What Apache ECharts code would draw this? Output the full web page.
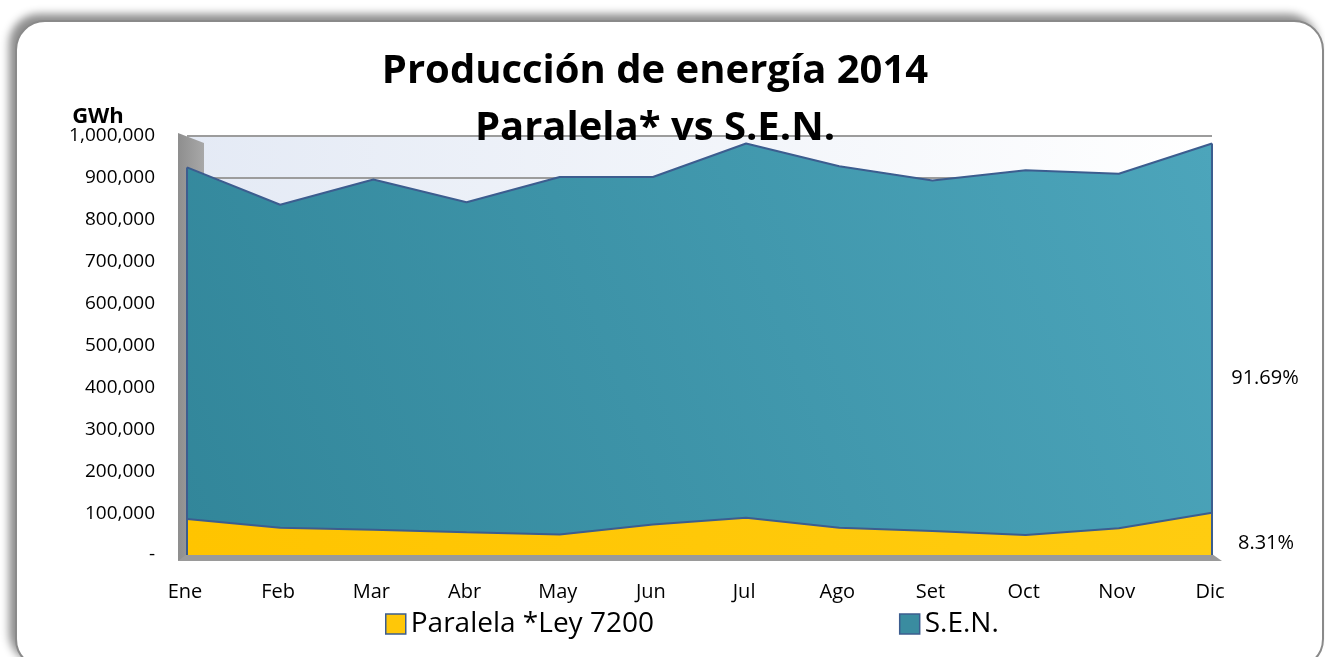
<!DOCTYPE html>
<html lang="es">
<head>
    <meta charset="UTF-8">
    <title>Producción de energía 2014</title>
    <script src="https://cdn.jsdelivr.net/npm/echarts@6/dist/echarts.min.js"></script>
    <style>
        body { margin: 0; background: #fff; }
        #frame {
            position: absolute; left: 15px; top: 20px; width: 1305px; height: 645px;
            border: 2px solid #8a8a8a; border-radius: 30px; background: #fff;
            box-shadow: -6px -6px 9px rgba(0,0,0,0.45);
        }
        #main { position: absolute; left: 0; top: 0; width: 1325px; height: 657px; }
    </style>
</head>
<body>
<div id="frame"></div>
<div id="main"></div>
<script type="text/javascript">
    // datos (GWh)
    var meses = ['Ene', 'Feb', 'Mar', 'Abr', 'May', 'Jun', 'Jul', 'Ago', 'Set', 'Oct', 'Nov', 'Dic'];
    var paralela = [86000, 65000, 60000, 54000, 49000, 73000, 89000, 65000, 57000, 48000, 64000, 101000];
    var sen = [839000, 771000, 836000, 788000, 853000, 829000, 893000, 863000, 837000, 870000, 846000, 881000];
    var nombres = ['Paralela *Ley 7200', 'S.E.N.'];
    var participacion = ['8.31%', '91.69%'];

    var fuente = '"Open Sans", sans-serif';
    var borde = '#3c5d8f';

    var myChart = echarts.init(document.getElementById('main'));

    // bordes verticales del area en los extremos
    var ultimo = meses.length - 1;
    var bordes = [
        [{coord: [meses[0], 0]}, {coord: [meses[0], paralela[0] + sen[0]]}],
        [{coord: [meses[ultimo], 0]}, {coord: [meses[ultimo], paralela[ultimo] + sen[ultimo]]}]
    ];

    var option = {
        backgroundColor: 'transparent',
        animation: false,
        title: {
            text: 'Producción de energía 2014\nParalela* vs S.E.N.',
            left: 650,
            top: 38,
            textAlign: 'center',
            textStyle: {
                fontFamily: fuente, fontWeight: 'bold', fontSize: 40,
                lineHeight: 57, color: '#000'
            }
        },
        legend: {
            data: nombres,
            left: 385,
            top: 610,
            padding: 0,
            itemGap: 245,
            itemWidth: 20,
            itemHeight: 20,
            icon: 'rect',
            itemStyle: {borderColor: borde, borderWidth: 1.5},
            textStyle: {fontFamily: fuente, fontSize: 28, color: '#000'}
        },
        grid: {
            left: 187, right: 113, top: 136, bottom: 102,
            show: true, borderWidth: 0,
            backgroundColor: new echarts.graphic.LinearGradient(0, 0, 1, 0, [
                {offset: 0, color: '#e4eaf5'},
                {offset: 1, color: '#ffffff'}
            ])
        },
        xAxis: {
            type: 'category',
            data: meses,
            boundaryGap: false,
            axisLine: {show: false},
            axisTick: {show: false},
            axisLabel: {margin: 27, padding: [0, 4, 0, 0], fontFamily: fuente, fontSize: 20, color: '#000'}
        },
        yAxis: {
            type: 'value',
            min: 0,
            max: 1000000,
            interval: 100000,
            axisLine: {show: false},
            axisTick: {show: false},
            splitLine: {lineStyle: {color: '#9c9c9c', width: 2}},
            axisLabel: {
                margin: 32, padding: [8, 0, 0, 0], fontFamily: fuente, fontSize: 19, color: '#000',
                formatter: function (v) { return v === 0 ? '-' : v.toLocaleString('en-US'); }
            }
        },
        graphic: [
            { // pared lateral
                type: 'polygon', z: 1,
                shape: {points: [[178, 133], [204, 143], [204, 556], [178, 561]]},
                style: {fill: new echarts.graphic.LinearGradient(0, 0, 1, 0, [
                    {offset: 0, color: '#8e8e8e'}, {offset: 1, color: '#a8a8a8'}])}
            },
            { // piso
                type: 'polygon', z: 1,
                shape: {points: [[178, 561], [187, 554], [1212, 554], [1222, 561]]},
                style: {fill: '#9a9a9a'}
            },
            {
                type: 'text', z: 5, x: 1266, y: 543,
                style: {text: participacion[0], font: '20px "Open Sans"', fill: '#000',
                    textAlign: 'center', textVerticalAlign: 'middle'}
            },
            {
                type: 'text', z: 5, x: 1265, y: 378,
                style: {text: participacion[1], font: '20px "Open Sans"', fill: '#000',
                    textAlign: 'center', textVerticalAlign: 'middle'}
            },
            {
                type: 'text', z: 5, x: 98, y: 117,
                style: {text: 'GWh', font: 'bold 22px "Open Sans"', fill: '#000',
                    textAlign: 'center', textVerticalAlign: 'middle'}
            }
        ],
        series: [
            {
                name: nombres[0],
                type: 'line',
                stack: 'total',
                data: paralela,
                symbol: 'none',
                lineStyle: {color: borde, width: 2},
                itemStyle: {color: '#ffc708'},
                areaStyle: {
                    opacity: 1,
                    color: new echarts.graphic.LinearGradient(0, 1, 1, 0, [
                        {offset: 0, color: '#ffc400'},
                        {offset: 1, color: '#ffcc10'}
                    ])
                }
            },
            {
                name: nombres[1],
                type: 'line',
                stack: 'total',
                data: sen,
                symbol: 'none',
                lineStyle: {color: borde, width: 2},
                itemStyle: {color: '#3a8ca0'},
                areaStyle: {
                    opacity: 1,
                    color: new echarts.graphic.LinearGradient(0, 1, 1, 0, [
                        {offset: 0, color: '#32869a'},
                        {offset: 1, color: '#4ca5bb'}
                    ])
                },
                markLine: {
                    silent: true,
                    symbol: 'none',
                    label: {show: false},
                    lineStyle: {color: borde, width: 2, type: 'solid'},
                    data: bordes
                }
            }
        ]
    };

    myChart.setOption(option);
</script>
</body>
</html>
